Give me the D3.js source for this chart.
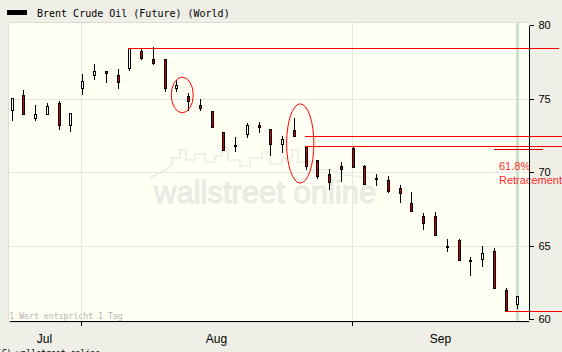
<!DOCTYPE html>
<html>
<head>
<meta charset="utf-8">
<title>Brent Crude Oil (Future)</title>
<script src="https://cdn.jsdelivr.net/npm/d3@7"></script>
<style>
  body { margin: 0; background: #efefe8; }
  svg { display: block; }
</style>
</head>
<body>
<svg id="chart"></svg>
<script>
var WIDTH = 562, HEIGHT = 352;
var PLOT = {left: 8, top: 22, right: 529, bottom: 322};

// trading days, one candle each
var dates = [
  "2006-07-24","2006-07-25","2006-07-26","2006-07-27","2006-07-28","2006-07-31",
  "2006-08-01","2006-08-02","2006-08-03","2006-08-04","2006-08-07","2006-08-08",
  "2006-08-09","2006-08-10","2006-08-11","2006-08-14","2006-08-15","2006-08-16",
  "2006-08-17","2006-08-18","2006-08-21","2006-08-22","2006-08-23","2006-08-24",
  "2006-08-25","2006-08-28","2006-08-29","2006-08-30","2006-08-31",
  "2006-09-01","2006-09-04","2006-09-05","2006-09-06","2006-09-07","2006-09-08",
  "2006-09-11","2006-09-12","2006-09-13","2006-09-14","2006-09-15",
  "2006-09-18","2006-09-19","2006-09-20","2006-09-21"
];
var open  = [74.24,75.27,73.70,73.97,74.72,73.22,75.74,76.63,76.90,76.63,77.10,78.26,
             77.71,77.71,75.74,75.20,74.59,74.18,72.75,71.86,72.61,73.22,72.95,71.93,
             72.88,71.80,70.84,69.89,70.44,71.66,70.44,69.64,69.48,68.94,67.92,67.03,
             67.03,64.99,65.40,64.04,64.11,64.65,62.00,61.05];
var high  = [75.10,75.63,74.59,74.74,74.86,74.04,76.71,77.41,76.92,77.03,78.46,78.39,
             78.53,77.71,76.29,75.40,74.99,74.18,72.75,72.41,73.36,73.43,72.95,72.48,
             73.70,71.80,70.84,70.23,70.71,71.73,70.50,69.91,69.73,69.14,68.67,67.24,
             67.31,65.47,65.47,64.24,64.99,64.86,62.14,61.59];
var low   = [73.54,73.95,73.54,73.95,72.99,72.79,75.33,76.35,76.15,75.74,76.97,77.71,
             77.35,75.54,75.54,74.27,74.27,73.09,71.52,71.46,72.41,72.75,71.18,71.39,
             72.48,70.23,69.64,68.87,69.39,70.37,69.21,69.12,68.69,68.01,67.37,66.15,
             65.74,64.65,64.04,63.02,63.63,62.14,60.64,60.78];
var close = [75.06,73.98,73.97,74.52,73.20,74.04,76.22,76.90,76.78,76.15,78.46,77.78,
             77.48,75.74,75.95,74.86,74.38,73.09,71.52,71.80,73.22,73.09,71.93,72.27,
             72.48,70.44,69.76,69.35,70.23,70.37,69.21,69.56,68.76,68.60,67.37,66.56,
             65.74,64.93,64.04,63.97,64.52,62.14,60.64,61.59];

var monthLabels = ["Jul", "Aug", "Sep"];
var yTicks = [60, 65, 70, 75, 80];
var gridLevels = [65, 70, 75];

// drawn annotations: level, first candle index
var resistLevels = [78.46, 72.48, 71.80, 60.57];
var resistStart  = [10, 25, 25, 42];
var retraceLevel = 71.62;
// circled areas: candle index span and price span
var circleIdx   = [[13.57, 15.44], [23.38, 25.70]];
var circlePrice = [[74.06, 76.49], [69.28, 74.67]];

var svg = d3.select("#chart").attr("width", WIDTH).attr("height", HEIGHT);

var x = d3.scalePoint().domain(dates).range([11.7, 517.3]);
var y = d3.scaleLinear().domain([60, 80]).range([319.5, 25.5]);
function xi(i) { return x(dates[0]) + i * x.step(); }

// header
svg.append("rect").attr("x", 7).attr("y", 10).attr("width", 20).attr("height", 5).attr("fill", "#000");
svg.append("text").attr("x", 37).attr("y", 17)
   .attr("font-family", "DejaVu Sans Mono").attr("font-size", "10px").attr("fill", "#000")
   .text("Brent Crude Oil (Future) (World)");

// plot area
svg.append("rect")
   .attr("x", PLOT.left + 0.5).attr("y", PLOT.top + 0.5)
   .attr("width", PLOT.right - PLOT.left).attr("height", PLOT.bottom - PLOT.top)
   .attr("fill", "#fffff3").attr("stroke", "#dddcd4");

// month boundaries
var monthStarts = [];
dates.forEach(function(d, i){
  if (i > 0 && d.slice(5, 7) !== dates[i-1].slice(5, 7)) monthStarts.push(Math.round(x(d)) - 1);
});
var bounds = [PLOT.left].concat(monthStarts).concat([PLOT.right]);

var grid = svg.append("g").attr("shape-rendering", "crispEdges").attr("stroke", "#e6e6e2");
grid.selectAll(".h").data(gridLevels).enter().append("line")
    .attr("x1", PLOT.left + 1).attr("x2", PLOT.right)
    .attr("y1", function(d){ return y(d); }).attr("y2", function(d){ return y(d); });
grid.selectAll(".v").data(monthStarts).enter().append("line")
    .attr("x1", function(d){ return d + 0.5; }).attr("x2", function(d){ return d + 0.5; })
    .attr("y1", PLOT.top + 1).attr("y2", PLOT.bottom);

// watermark
svg.append("path")
   .attr("d", "M150,178 L165,170 L172,165 L172,158 L180,158 L180,150 L186,150 L186,160 L195,160 L195,154 L205,154 L205,162 L215,162 L215,156 L222,156 L222,148 L228,148 L228,160 L240,160 L240,166 L250,166 L250,158 L262,158 L262,152 L270,152 L270,164 L282,164 L282,158 L292,158 L292,150 L298,150 L298,162 L310,162 L310,170 L330,170 L345,175 L370,178")
   .attr("fill", "none").attr("stroke", "#ebebe4").attr("stroke-width", 1.5);
svg.append("text").attr("x", 154).attr("y", 203)
   .attr("font-family", "Liberation Sans").attr("font-size", "31px")
   .attr("fill", "#efefea").attr("stroke", "#e4e4de").attr("stroke-width", 0.8)
   .text("wallstreet online");

svg.append("text").attr("x", 9.3).attr("y", 319)
   .attr("font-family", "DejaVu Sans Mono").attr("font-size", "8.2px").attr("fill", "#b4b4b4")
   .text("1 Wert entspricht 1 Tag");

// current-day band
var lastX = Math.round(x(dates[dates.length - 1]));
svg.append("rect").attr("x", lastX - 1).attr("y", PLOT.top + 1)
   .attr("width", 3).attr("height", PLOT.bottom - PLOT.top - 1).attr("fill", "#c9e5c9");

// candles
var candles = svg.append("g").attr("shape-rendering", "crispEdges");
var idx = d3.range(dates.length);
candles.selectAll(".wick").data(idx).enter().append("line")
   .attr("x1", function(i){ return Math.round(x(dates[i])) + 0.5; })
   .attr("x2", function(i){ return Math.round(x(dates[i])) + 0.5; })
   .attr("y1", function(i){ return Math.round(y(high[i])); })
   .attr("y2", function(i){ return Math.round(y(low[i])) + 1; })
   .attr("stroke", "#000");
candles.selectAll(".body").data(idx).enter().append("rect")
   .attr("x", function(i){ return Math.round(x(dates[i])) - 0.5; })
   .attr("y", function(i){ return Math.round(y(Math.max(open[i], close[i]))) + 0.5; })
   .attr("width", 2)
   .attr("height", function(i){
     return Math.max(1, Math.round(y(Math.min(open[i], close[i]))) - Math.round(y(Math.max(open[i], close[i]))));
   })
   .attr("fill", function(i){ return close[i] >= open[i] ? "#ffffff" : "#cc0000"; })
   .attr("stroke", "#000");

// annotation lines
var ann = svg.append("g").attr("shape-rendering", "crispEdges");
ann.selectAll(".lvl").data(resistLevels).enter().append("line")
   .attr("x1", function(d, i){ return Math.round(xi(resistStart[i])) - 1; })
   .attr("x2", function(d, i){ return i === 0 ? 559 : WIDTH; })
   .attr("y1", function(d){ return Math.round(y(d)) + 0.5; })
   .attr("y2", function(d){ return Math.round(y(d)) + 0.5; })
   .attr("stroke", "#ff0000");
ann.append("line").attr("x1", 494).attr("x2", 543)
   .attr("y1", Math.round(y(retraceLevel)) + 0.5).attr("y2", Math.round(y(retraceLevel)) + 0.5)
   .attr("stroke", "#d00000");

svg.selectAll(".circ").data(circleIdx).enter().append("ellipse")
   .attr("cx", function(d){ return (xi(d[0]) + xi(d[1])) / 2; })
   .attr("rx", function(d){ return (xi(d[1]) - xi(d[0])) / 2; })
   .attr("cy", function(d, i){ return (y(circlePrice[i][0]) + y(circlePrice[i][1])) / 2; })
   .attr("ry", function(d, i){ return (y(circlePrice[i][0]) - y(circlePrice[i][1])) / 2; })
   .attr("fill", "none").attr("stroke", "#ff0000").attr("stroke-width", 1);

var ry = y(retraceLevel);
svg.append("text").attr("x", 499).attr("y", ry + 21)
   .attr("font-family", "Liberation Sans").attr("font-size", "11px").attr("fill", "#ff2a2a")
   .text("61.8%");
svg.append("text").attr("x", 499).attr("y", ry + 35)
   .attr("font-family", "Liberation Sans").attr("font-size", "11px").attr("fill", "#ff2a2a")
   .text("Retracement");

// right axis
var yAxis = d3.axisRight(y).tickValues(yTicks).tickSize(4).tickSizeOuter(0).tickPadding(5).offset(0);
var gy = svg.append("g").attr("transform", "translate(" + (PLOT.right + 0.5) + ",0)")
   .attr("shape-rendering", "crispEdges").call(yAxis);
gy.selectAll("text").attr("font-family", "Liberation Sans").attr("font-size", "11px").attr("fill", "#000");

// bottom axis
var gx = svg.append("g").attr("shape-rendering", "crispEdges");
gx.append("line").attr("x1", 10).attr("x2", PLOT.right)
  .attr("y1", PLOT.bottom - 0.5).attr("y2", PLOT.bottom - 0.5).attr("stroke", "#000");
gx.selectAll(".tick").data(monthStarts).enter().append("line")
  .attr("x1", function(d){ return d + 0.5; }).attr("x2", function(d){ return d + 0.5; })
  .attr("y1", PLOT.bottom).attr("y2", PLOT.bottom + 4).attr("stroke", "#000");
svg.selectAll(".mlabel").data(monthLabels).enter().append("text")
  .attr("x", function(d, i){ return (bounds[i] + bounds[i + 1]) / 2; })
  .attr("y", 343).attr("text-anchor", "middle")
  .attr("font-family", "Liberation Sans").attr("font-size", "12px").attr("fill", "#000")
  .text(function(d){ return d; });

svg.append("text").attr("x", -3.3).attr("y", 356)
   .attr("font-family", "DejaVu Sans Mono").attr("font-size", "8.2px").attr("fill", "#000")
   .text("(C) wallstreet-online");
</script>
</body>
</html>
